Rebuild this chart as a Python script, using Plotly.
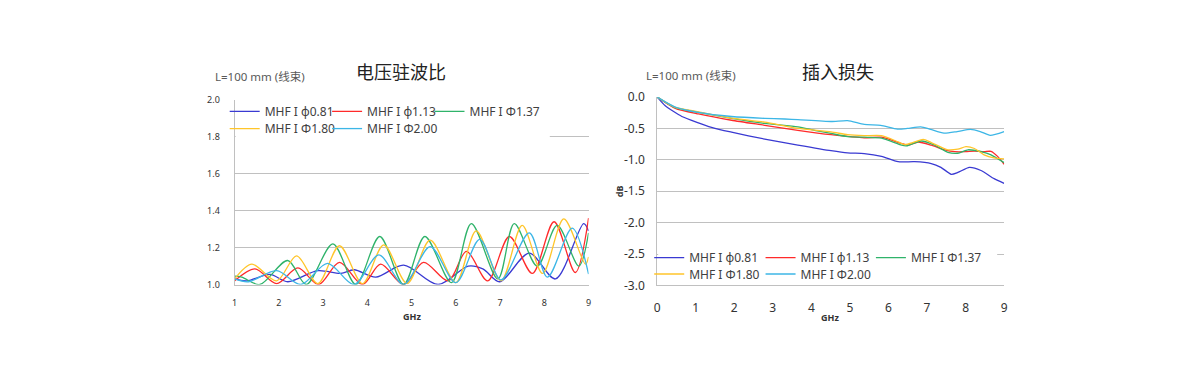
import plotly.graph_objects as go

# ---------------- Data ----------------
series_names = ["MHF I ϕ0.81", "MHF I ϕ1.13", "MHF I Φ1.37", "MHF I Φ1.80", "MHF I Φ2.00"]
series_colors = ["#3a3ad2", "#ff2a2a", "#2fb36a", "#ffc52a", "#3cb6e6"]

# VSWR (电压驻波比) key points: GHz / VSWR
vswr_x_081 = [1.0, 1.28, 1.8, 2.2, 2.88, 3.4, 3.7, 4.19, 4.82, 5.6, 6.28, 6.61, 6.99, 7.66, 8.25, 8.89, 9.0]
vswr_y_081 = [1.03, 1.02, 1.055, 1.015, 1.075, 1.06, 1.08, 1.04, 1.105, 1.0, 1.1, 1.085, 1.015, 1.17, 1.03, 1.33, 1.29]

vswr_x_113 = [1.0, 1.46, 1.95, 2.43, 2.9, 3.37, 3.89, 4.3, 4.82, 5.27, 5.83, 6.24, 6.72, 7.21, 7.73, 8.22, 8.7, 9.0]
vswr_y_113 = [1.02, 1.085, 1.005, 1.09, 1.0, 1.12, 1.0, 1.11, 1.0, 1.12, 1.02, 1.18, 1.02, 1.26, 1.06, 1.34, 1.065, 1.36]

vswr_x_137 = [1.0, 1.16, 1.57, 2.2, 2.62, 3.22, 3.74, 4.28, 4.82, 5.3, 5.9, 6.35, 6.95, 7.32, 7.84, 8.29, 8.78, 9.0]
vswr_y_137 = [1.045, 1.04, 1.0, 1.13, 1.0, 1.22, 1.0, 1.26, 1.0, 1.26, 1.01, 1.33, 1.03, 1.33, 1.1, 1.32, 1.1, 1.28]

vswr_x_180 = [1.0, 1.39, 1.95, 2.4, 2.88, 3.37, 3.89, 4.37, 4.9, 5.42, 6.0, 6.46, 7.02, 7.5, 7.96, 8.44, 8.93, 9.0]
vswr_y_180 = [1.03, 1.11, 1.02, 1.155, 1.005, 1.21, 1.005, 1.215, 1.005, 1.24, 1.01, 1.29, 1.02, 1.32, 1.06, 1.355, 1.11, 1.15]

vswr_x_200 = [1.0, 1.31, 1.95, 2.5, 3.1, 3.7, 4.26, 4.82, 5.42, 6.0, 6.54, 7.02, 7.66, 8.07, 8.63, 9.0]
vswr_y_200 = [1.03, 1.015, 1.075, 1.0, 1.115, 1.0, 1.16, 1.0, 1.205, 1.01, 1.245, 1.025, 1.28, 1.04, 1.305, 1.057]

# Insertion loss (插入损失) key points: GHz / dB
il_x_081 = [0.0, 0.21, 0.64, 1.07, 1.5, 1.93, 2.79, 3.65, 4.51, 4.94, 5.37, 5.82, 6.25, 6.68, 7.11, 7.36, 7.63, 7.8, 8.1, 8.4, 8.74, 9.0]
il_y_081 = [0.0, -0.14, -0.31, -0.41, -0.5, -0.56, -0.67, -0.765, -0.855, -0.89, -0.9, -0.944, -1.03, -1.03, -1.06, -1.12, -1.23, -1.2, -1.12, -1.17, -1.3, -1.375]

il_x_113 = [0.0, 0.47, 1.07, 1.93, 2.79, 3.65, 4.51, 5.37, 5.82, 6.34, 6.51, 6.77, 7.11, 7.46, 7.72, 8.0, 8.23, 8.48, 8.66, 8.83, 9.0]
il_y_113 = [0.0, -0.18, -0.27, -0.37, -0.45, -0.53, -0.6, -0.65, -0.64, -0.74, -0.767, -0.716, -0.767, -0.84, -0.87, -0.87, -0.86, -0.87, -0.865, -0.945, -1.07]

il_x_137 = [0.0, 0.47, 1.07, 1.93, 2.79, 3.65, 4.08, 4.51, 4.94, 5.37, 5.82, 6.34, 6.47, 6.85, 7.2, 7.54, 7.8, 8.06, 8.4, 8.66, 9.0]
il_y_137 = [0.0, -0.17, -0.245, -0.34, -0.42, -0.475, -0.53, -0.58, -0.63, -0.64, -0.655, -0.767, -0.777, -0.7, -0.767, -0.88, -0.895, -0.84, -0.87, -0.92, -1.045]

il_x_180 = [0.0, 0.47, 1.07, 1.93, 2.79, 3.65, 4.51, 4.94, 5.37, 5.82, 6.25, 6.42, 6.68, 6.9, 7.11, 7.54, 7.8, 8.01, 8.23, 8.48, 8.74, 9.0]
il_y_180 = [0.0, -0.165, -0.235, -0.335, -0.4, -0.5, -0.555, -0.6, -0.615, -0.615, -0.715, -0.757, -0.715, -0.675, -0.725, -0.84, -0.83, -0.79, -0.82, -0.92, -0.97, -0.985]

il_x_200 = [0.0, 0.47, 1.07, 1.93, 2.79, 3.31, 3.65, 4.51, 4.94, 5.37, 5.8, 6.23, 6.49, 6.84, 7.09, 7.44, 7.78, 8.13, 8.38, 8.64, 9.0]
il_y_200 = [0.0, -0.16, -0.245, -0.31, -0.34, -0.35, -0.36, -0.39, -0.375, -0.435, -0.45, -0.51, -0.5, -0.475, -0.515, -0.575, -0.55, -0.515, -0.55, -0.61, -0.55]

# tick labels
vswr_ticks = [1.0, 1.2, 1.4, 1.6, 1.8, 2.0]
vswr_ticktext = ["1.0", "1.2", "1.4", "1.6", "1.8", "2.0"]
il_ticks = [0.0, -0.5, -1.0, -1.5, -2.0, -2.5, -3.0]
il_ticktext = ["0.0", "-0.5", "-1.0", "-1.5", "-2.0", "-2.5", "-3.0"]

vswr_xs = [vswr_x_081, vswr_x_113, vswr_x_137, vswr_x_180, vswr_x_200]
vswr_ys = [vswr_y_081, vswr_y_113, vswr_y_137, vswr_y_180, vswr_y_200]
il_xs = [il_x_081, il_x_113, il_x_137, il_x_180, il_x_200]
il_ys = [il_y_081, il_y_113, il_y_137, il_y_180, il_y_200]

# ---------------- Figure ----------------
W, H = 1200, 392
def px(x):
    return x / W
def py(y):
    return (H - y) / H

FONT = "Noto Sans, Noto Sans CJK SC, sans-serif"
GRID = "#c0c0c0"
TXT = "#404040"

fig = go.Figure()

for i in range(5):
    fig.add_trace(go.Scatter(
        x=vswr_xs[i], y=vswr_ys[i], mode="lines", name=series_names[i],
        line=dict(color=series_colors[i], width=1.3, shape="spline", smoothing=0.9),
        xaxis="x", yaxis="y", legend="legend" if i == 0 else "legend%d" % (i + 1),
        showlegend=True, hoverinfo="skip"))
for i in range(5):
    fig.add_trace(go.Scatter(
        x=il_xs[i], y=il_ys[i], mode="lines", name=series_names[i],
        line=dict(color=series_colors[i], width=1.3, shape="spline", smoothing=0.6),
        xaxis="x2", yaxis="y2", legend="legend%d" % (i + 6), showlegend=True, hoverinfo="skip"))

common_axis = dict(showline=True, linecolor=GRID, linewidth=1, ticks="", zeroline=False,
                   fixedrange=True)

fig.update_layout(
    width=W, height=H,
    margin=dict(l=0, r=0, t=0, b=0),
    paper_bgcolor="white", plot_bgcolor="white",
    showlegend=True,
    font=dict(family=FONT, color=TXT),
    xaxis=dict(domain=[px(233), px(589)], range=[1, 9], dtick=1, tick0=1, showgrid=False,
               tickfont=dict(size=9, color="#333333"), anchor="y", ticklabelstandoff=10, **common_axis),
    yaxis=dict(domain=[py(288), py(95)], range=[1.0, 2.0], tickvals=vswr_ticks, ticktext=vswr_ticktext,
               showgrid=True, gridcolor=GRID, gridwidth=1,
               tickfont=dict(size=9, color="#333333"), anchor="x", ticklabelstandoff=12, **common_axis),
    xaxis2=dict(domain=[px(658), px(1007)], range=[0, 9], dtick=1, tick0=0, showgrid=False,
                tickfont=dict(size=12, color="#333333"), anchor="y2", ticklabelstandoff=11, **common_axis),
    yaxis2=dict(domain=[py(289), py(92)], range=[-3.0, 0.0], tickvals=il_ticks, ticktext=il_ticktext,
                showgrid=True, gridcolor=GRID, gridwidth=1,
                tickfont=dict(size=12, color="#333333"), anchor="x2", ticklabelstandoff=9, **common_axis),
)

# one legend per entry, positioned like the original's two-row legends
leg_common = dict(orientation="h", bgcolor="rgba(0,0,0,0)", font=dict(size=12, color=TXT, family=FONT),
                  xanchor="left", yanchor="middle", itemclick=False, itemdoubleclick=False, visible=True)
left_text_x = [263, 366, 469, 263, 366]
left_row_y = [107, 107, 107, 125, 125]
right_text_x = [690, 802, 913, 690, 802]
right_row_y = [260, 260, 260, 277, 277]
legs = {}
for i in range(5):
    key = "legend" if i == 0 else "legend%d" % (i + 1)
    legs[key] = dict(x=px(left_text_x[i] - 40), y=py(left_row_y[i]), **leg_common)
for i in range(5):
    key = "legend%d" % (i + 6)
    legs[key] = dict(x=px(right_text_x[i] - 40), y=py(right_row_y[i]), **leg_common)
fig.update_layout(**legs)

# legend backgrounds (white boxes covering gridlines as in the original)
fig.add_shape(type="rect", xref="paper", yref="paper", x0=px(234), x1=px(550), y0=py(137), y1=py(97),
              fillcolor="white", line=dict(width=0), layer="above")
fig.add_shape(type="rect", xref="paper", yref="paper", x0=px(659), x1=px(1000), y0=py(286), y1=py(250),
              fillcolor="white", line=dict(width=0), layer="above")

annotations = [
    dict(text="电压驻波比", x=px(400), y=py(66), font=dict(size=18, color="#222222")),
    dict(text="插入损失", x=px(840), y=py(66), font=dict(size=18, color="#222222")),
    dict(text="L=100 mm (线束)", x=px(259), y=py(71), font=dict(size=11.5, color="#595959")),
    dict(text="L=100 mm (线束)", x=px(692), y=py(70), font=dict(size=11.5, color="#595959")),
    dict(text="<b>GHz</b>", x=px(411), y=py(321), font=dict(size=9, color="#333333")),
    dict(text="<b>GHz</b>", x=px(832), y=py(322), font=dict(size=9, color="#333333")),
    dict(text="<b>dB</b>", x=px(620), y=py(190), textangle=-90, font=dict(size=9, color="#333333")),
]
for a in annotations:
    fig.add_annotation(xref="paper", yref="paper", showarrow=False, xanchor="center", yanchor="middle", **a)

fig.write_html("out.html", config={"displayModeBar": False, "staticPlot": True})
